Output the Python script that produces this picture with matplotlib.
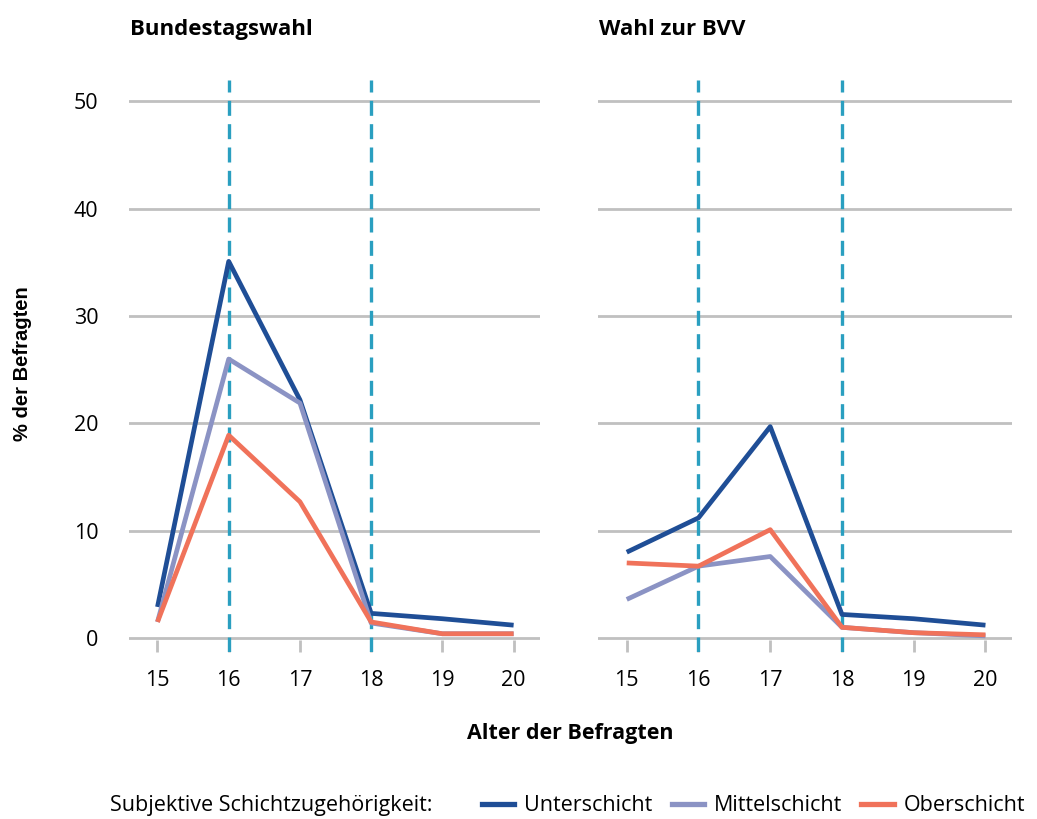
import matplotlib.pyplot as plt
from matplotlib.lines import Line2D

plt.rcParams['font.family'] = ['Open Sans', 'DejaVu Sans']

ages = [15, 16, 17, 18, 19, 20]
panels = ["Bundestagswahl", "Wahl zur BVV"]
groups = ["Unterschicht", "Mittelschicht", "Oberschicht"]
colors = ["#1f4e96", "#8b93c4", "#f0725a"]

# % der Befragten je Alter
btw_unter = [2.9, 35.1, 22.2, 2.3, 1.8, 1.2]
btw_mittel = [1.5, 26.0, 21.9, 1.4, 0.4, 0.4]
btw_ober = [1.5, 18.9, 12.7, 1.5, 0.4, 0.4]

bvv_unter = [8.0, 11.2, 19.7, 2.2, 1.8, 1.2]
bvv_mittel = [3.6, 6.7, 7.6, 1.0, 0.5, 0.2]
bvv_ober = [7.0, 6.7, 10.1, 1.0, 0.5, 0.3]

data = [[btw_unter, btw_mittel, btw_ober], [bvv_unter, bvv_mittel, bvv_ober]]
markers_age = [16, 18]
yticks = [0, 10, 20, 30, 40, 50]

fig = plt.figure(figsize=(10.37, 8.19), dpi=100)
positions = [[0.1244, 0.2039, 0.3963, 0.6984], [0.5767, 0.2039, 0.3992, 0.6984]]

for i, (pos, title, series) in enumerate(zip(positions, panels, data)):
    ax = fig.add_axes(pos)
    for y in yticks:
        ax.axhline(y, color="#c0c0c0", lw=2, zorder=1)
    for a in markers_age:
        ax.axvline(a, color="#2a9fc0", lw=2.4, linestyle=(0, (4.5, 2.5)), zorder=2)
    for vals, c in zip(series, colors):
        ax.plot(ages, vals, color=c, lw=3.4, zorder=3, solid_capstyle="butt")
    ax.set_xlim(14.6, 20.37)
    ax.set_ylim(-1.3, 52)
    for s in ax.spines.values():
        s.set_visible(False)
    ax.set_xticks(ages)
    ax.tick_params(axis="x", direction="in", length=9, width=2, color="#c0c0c0",
                   labelsize=15.5, pad=13)
    ax.set_yticks(yticks)
    if i == 0:
        ax.tick_params(axis="y", length=0, labelsize=15.5, pad=22)
    else:
        ax.tick_params(axis="y", length=0, labelleft=False)
    ax.text(0.002, 1.07, title, transform=ax.transAxes, fontsize=16, fontweight="bold",
            ha="left", va="bottom")

fig.text(0.022, 0.5557, "% der Befragten", rotation=90, fontsize=14.5, fontweight="bold",
         ha="center", va="center", family=["Liberation Sans", "DejaVu Sans"])
fig.text(0.55, 0.105, "Alter der Befragten", fontsize=15.5, fontweight="bold",
         ha="center", va="center")

fig.text(0.106, 0.016, "Subjektive Schichtzugehörigkeit:", fontsize=15.5, ha="left", va="center")
handles = [Line2D([], [], color=c, lw=3.8) for c in colors]
fig.legend(handles, groups, loc="center left", bbox_to_anchor=(0.465, 0.016), ncol=3,
           frameon=False, fontsize=15.5, handlelength=1.5, handletextpad=0.45,
           columnspacing=0.9, borderpad=0, borderaxespad=0)

fig.savefig("out.png", dpi=100)
